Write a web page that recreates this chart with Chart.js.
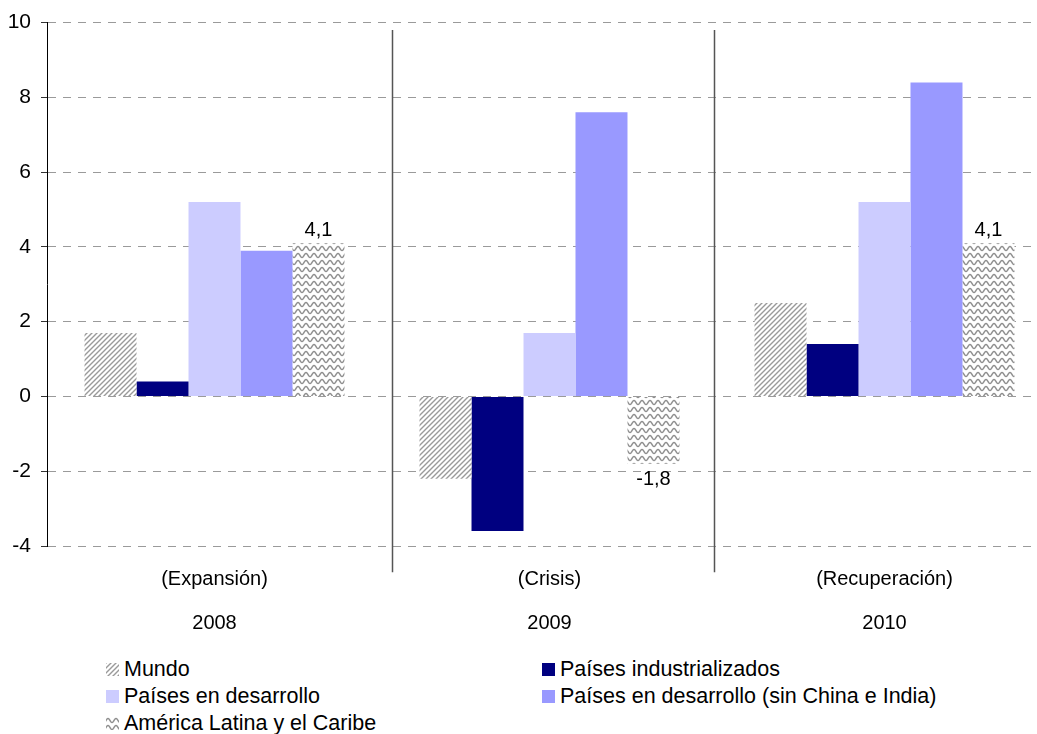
<!DOCTYPE html>
<html>
<head>
<meta charset="utf-8">
<script src="https://cdn.jsdelivr.net/npm/chart.js@4/dist/chart.umd.min.js"></script>
<style>
  html, body { margin: 0; padding: 0; background: #fff; overflow: hidden; }
  #wrap { position: relative; width: 1055px; height: 734px; }
  #legend {
    position: absolute; left: 106px; top: 657px; width: 900px;
    font-family: 'Liberation Sans', Arial, sans-serif; font-size: 21.5px; color: #000;
    display: grid; grid-template-columns: 436px 460px; row-gap: 3px;
  }
  .item { display: flex; align-items: center; height: 24px; }
  .sw { width: 13px; height: 13px; margin-right: 5px; display: inline-block; }
</style>
</head>
<body>
<div id="wrap">
  <canvas id="chart" width="1055" height="650"></canvas>
  <div id="legend"></div>
</div>
<script>
// ── Data ──────────────────────────────────────────────────
const categories = [['(Expansión)', '', '2008'], ['(Crisis)', '', '2009'], ['(Recuperación)', '', '2010']];
const seriesNames = [
  'Mundo',
  'Países industrializados',
  'Países en desarrollo',
  'Países en desarrollo (sin China e India)',
  'América Latina y el Caribe',
];
const mundo          = [1.7, -2.2, 2.5];
const industrial     = [0.4, -3.6, 1.4];
const desarrollo     = [5.2, 1.7, 5.2];
const desarrolloSin  = [3.9, 7.6, 8.4];
const americaLatina  = [4.1, -1.8, 4.1];
const yTicks = { min: -4, max: 10, step: 2 };
// vertical separators between periods (category units)
const separators = [0.53, 1.49];

const FONT = '"Liberation Sans", Arial, sans-serif';

// ── Patterns ──────────────────────────────────────────────
function diagPattern() {
  const c = document.createElement('canvas');
  c.width = 5; c.height = 5;
  const g = c.getContext('2d');
  g.fillStyle = '#fff'; g.fillRect(0, 0, 5, 5);
  g.strokeStyle = '#9a9a9a'; g.lineWidth = 1.4;
  g.beginPath();
  g.moveTo(-1, 6); g.lineTo(6, -1);
  g.moveTo(-1, 1); g.lineTo(1, -1);
  g.moveTo(4, 6); g.lineTo(6, 4);
  g.stroke();
  return c;
}
function wavePattern() {
  const c = document.createElement('canvas');
  c.width = 8; c.height = 7;
  const g = c.getContext('2d');
  g.fillStyle = '#fff'; g.fillRect(0, 0, 8, 7);
  g.strokeStyle = '#909090'; g.lineWidth = 1.4;
  g.beginPath();
  for (let x = -1; x <= 9; x += 0.5) {
    const y = 3.5 - 2 * Math.sin((x / 8) * Math.PI * 2);
    if (x === -1) g.moveTo(x, y); else g.lineTo(x, y);
  }
  g.stroke();
  return c;
}
const ctx = document.getElementById('chart').getContext('2d');
const diagTile = diagPattern();
const waveTile = wavePattern();
const fills = [
  ctx.createPattern(diagTile, 'repeat'),
  '#000080',
  '#ccccff',
  '#9999ff',
  ctx.createPattern(waveTile, 'repeat'),
];

// ── Plugins ───────────────────────────────────────────────
const valueLabels = {
  id: 'valueLabels',
  afterDatasetsDraw(chart) {
    const meta = chart.getDatasetMeta(4);
    const c = chart.ctx;
    c.save();
    c.font = `20px ${FONT}`;
    c.fillStyle = '#000';
    c.textAlign = 'center';
    meta.data.forEach((bar, i) => {
      const v = americaLatina[i];
      const txt = v.toFixed(1).replace('.', ',');
      if (v >= 0) { c.textBaseline = 'bottom'; c.fillText(txt, bar.x, bar.y - 3); }
      else        { c.textBaseline = 'top';    c.fillText(txt, bar.x, bar.y + 6); }
    });
    c.restore();
  },
};
const separatorLines = {
  id: 'separatorLines',
  afterDraw(chart) {
    const { x, y } = chart.scales;
    const c = chart.ctx;
    c.save();
    c.strokeStyle = '#555'; c.lineWidth = 1.5;
    separators.forEach(s => {
      const px = Math.round(x.getPixelForValue(s)) + 0.5;
      c.beginPath();
      c.moveTo(px, y.getPixelForValue(9.8));
      c.lineTo(px, y.getPixelForValue(-4.7));
      c.stroke();
    });
    c.restore();
  },
};

// ── Chart ─────────────────────────────────────────────────
const values = [mundo, industrial, desarrollo, desarrolloSin, americaLatina];
new Chart(ctx, {
  type: 'bar',
  data: {
    labels: categories,
    datasets: values.map((d, i) => ({
      label: seriesNames[i],
      data: d,
      backgroundColor: fills[i],
      borderWidth: 0,
      barPercentage: 1,
      categoryPercentage: 0.776,
    })),
  },
  options: {
    responsive: false,
    animation: false,
    layout: { padding: { top: 21, right: 3, left: 0, bottom: 0 } },
    plugins: { legend: { display: false }, tooltip: { enabled: false } },
    scales: {
      x: {
        grid: { display: false },
        border: { display: false },
        ticks: {
          color: '#000', padding: 14, maxRotation: 0,
          font: { family: FONT, size: 20, lineHeight: 1.1 },
        },
        afterFit(scale) { scale.height = 104; },
      },
      y: {
        min: yTicks.min, max: yTicks.max,
        grid: {
          color: '#9a9a9a', lineWidth: 1,
          tickLength: 6, tickColor: '#333', tickBorderDash: [],
        },
        border: { display: true, color: '#000', width: 1, dash: [8, 7] },
        ticks: {
          stepSize: yTicks.step, color: '#000', padding: 10,
          font: { family: FONT, size: 21 },
        },
        afterFit(scale) { scale.width = 47; },
      },
    },
  },
  plugins: [valueLabels, separatorLines],
});

// ── Legend (HTML, two columns) ────────────────────────────
const legend = document.getElementById('legend');
seriesNames.forEach((name, i) => {
  const item = document.createElement('div');
  item.className = 'item';
  const sw = document.createElement('span');
  sw.className = 'sw';
  if (i === 0) sw.style.background = `url(${diagTile.toDataURL()})`;
  else if (i === 4) sw.style.background = `url(${waveTile.toDataURL()})`;
  else sw.style.background = fills[i];
  item.appendChild(sw);
  item.appendChild(document.createTextNode(name));
  legend.appendChild(item);
});
</script>
</body>
</html>
